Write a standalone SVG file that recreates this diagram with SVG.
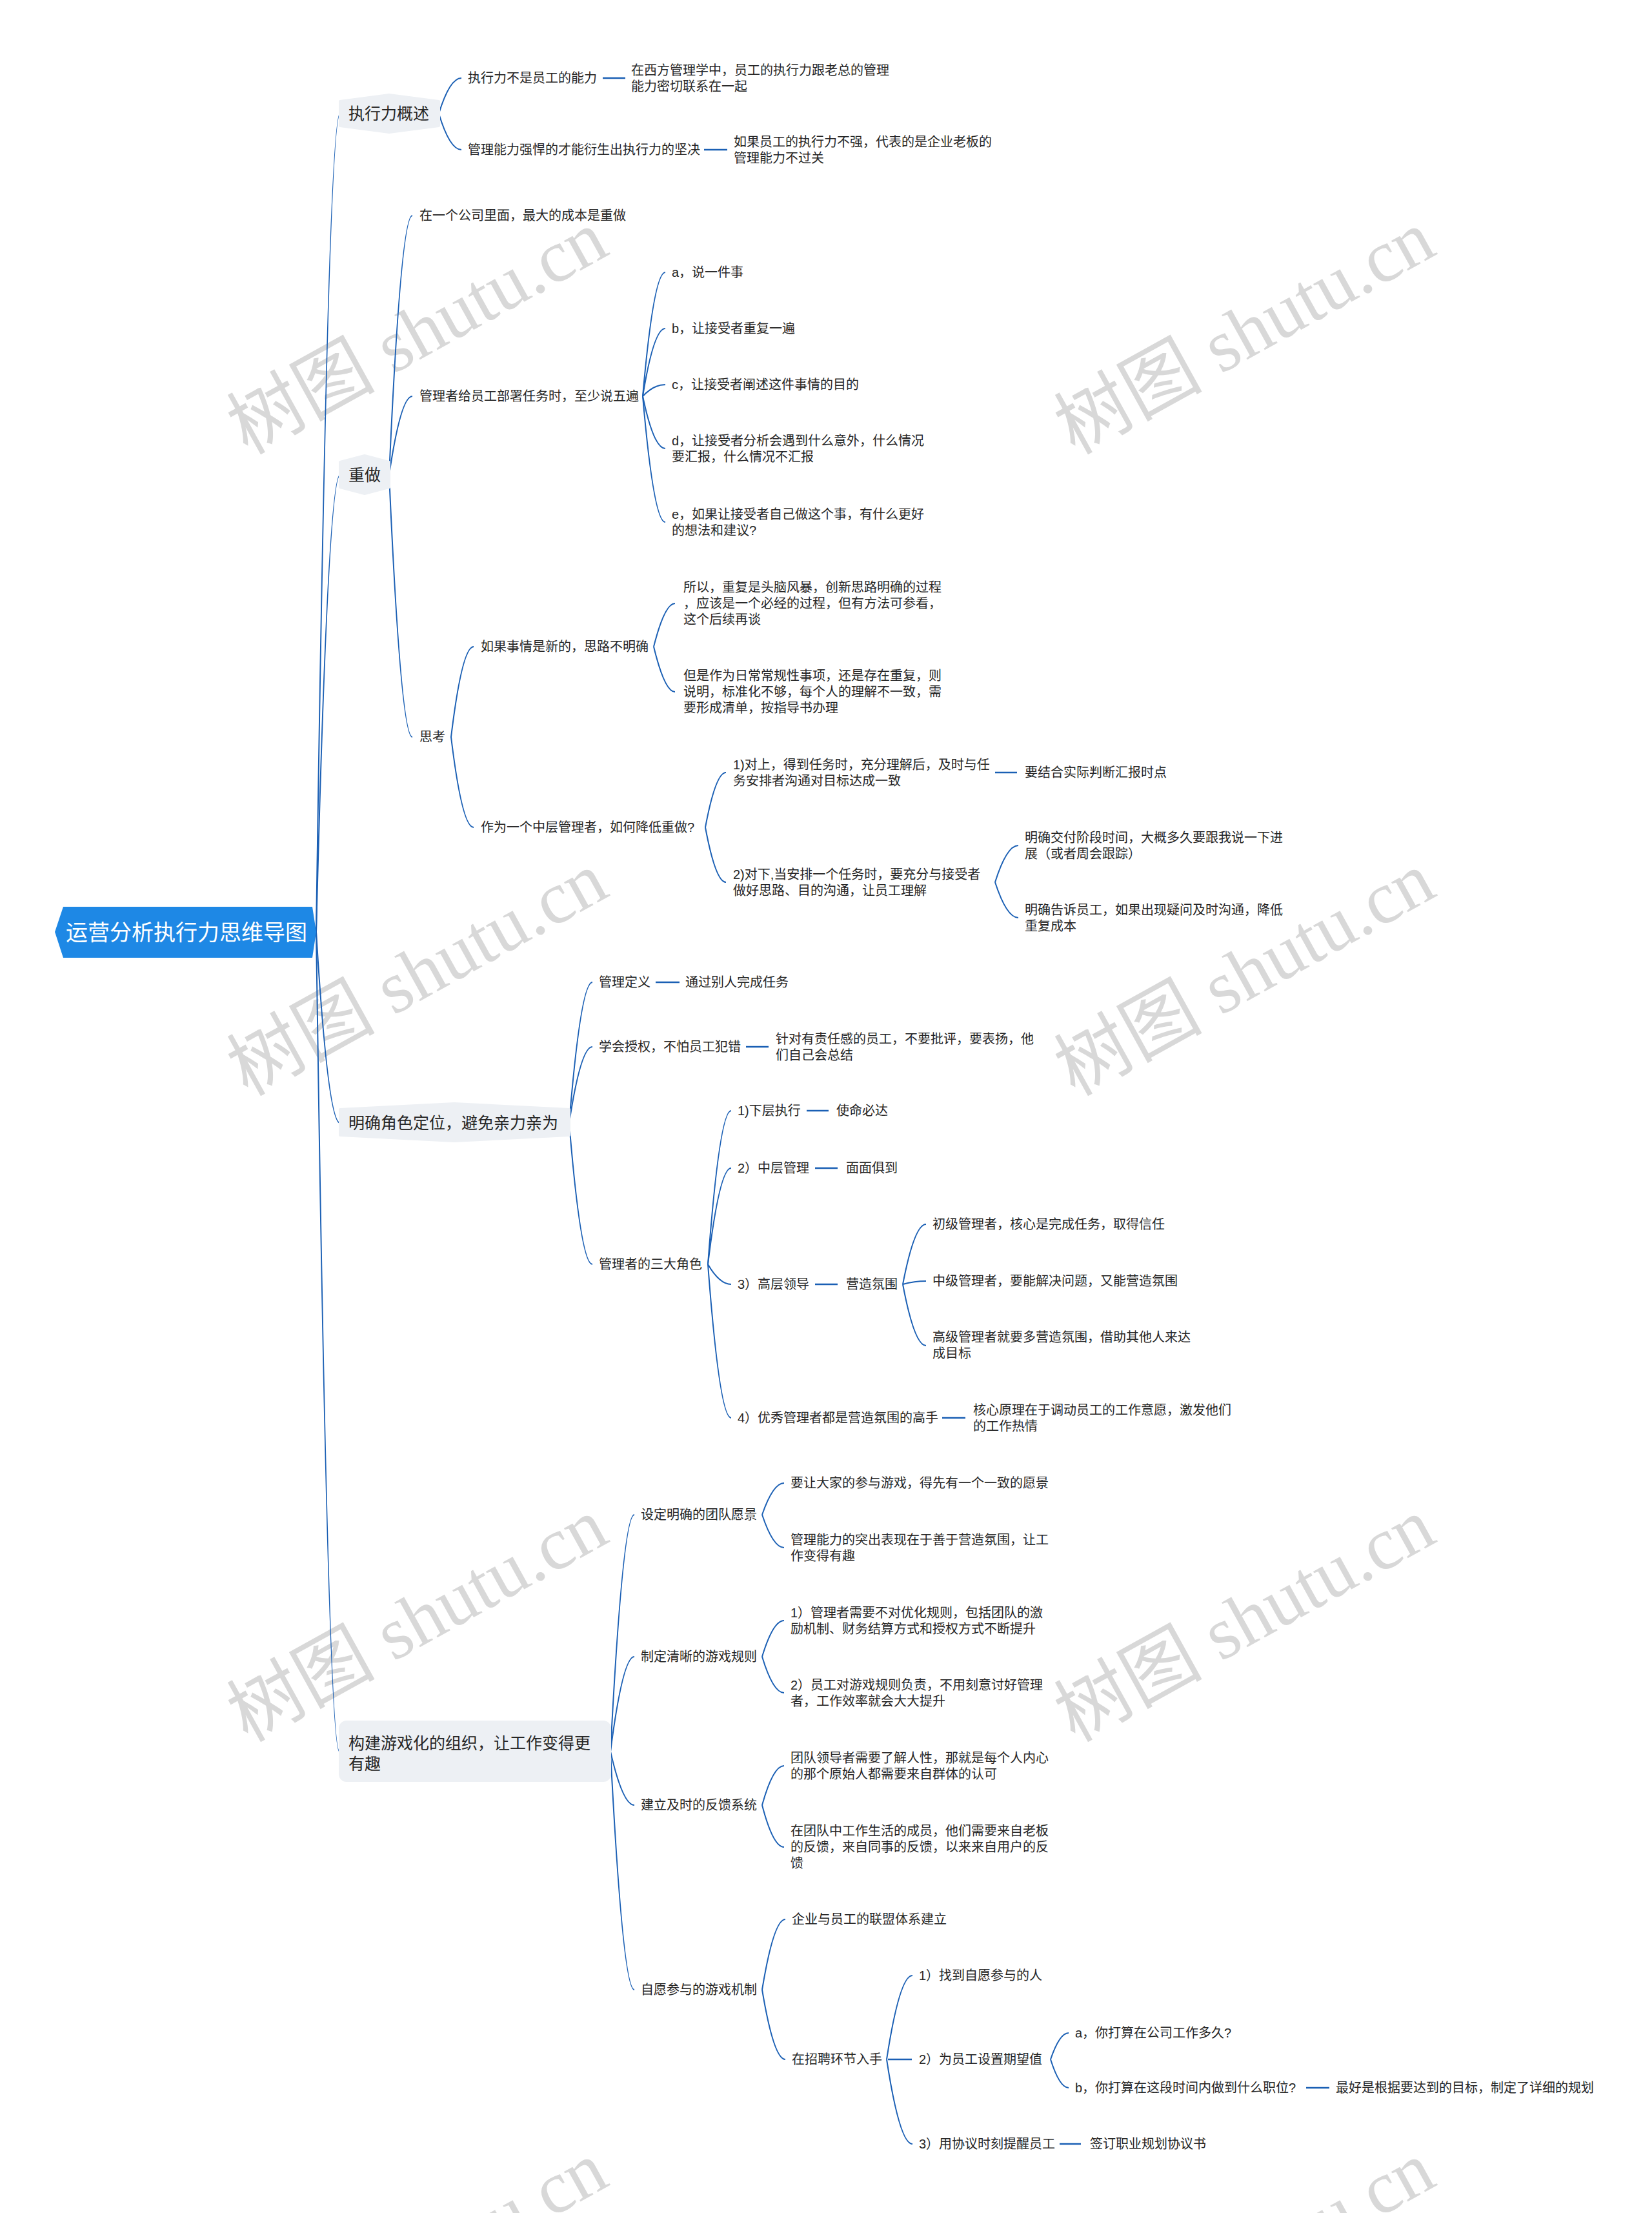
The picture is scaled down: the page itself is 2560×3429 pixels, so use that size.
<svg xmlns="http://www.w3.org/2000/svg" width="2560" height="3429" viewBox="0 0 2560 3429">
<style>
.t{font-family:'Liberation Sans','Noto Sans CJK SC',sans-serif;font-size:20px;fill:#262626}
.t1{font-family:'Liberation Sans','Noto Sans CJK SC',sans-serif;font-size:25px;fill:#262626}
.rt{font-family:'Liberation Sans','Noto Sans CJK SC',sans-serif;font-size:34px;fill:#ffffff}
.c{fill:none;stroke:#1a5fb4;stroke-width:2}
.d{stroke:#1a5fb4;stroke-width:2.5}
.bg{fill:#edf0f4;stroke:#edf0f4;stroke-width:4;stroke-linejoin:round}
.wm{font-family:'Liberation Serif','Noto Sans CJK SC',serif;font-size:115px;fill:#d8d8d8;text-anchor:middle}
</style>
<rect width="2560" height="3429" fill="#ffffff"/>
<g id="watermarks">
<text class="wm" x="646" y="554" transform="rotate(-29 646 514)">树图 shutu.cn</text>
<text class="wm" x="1928" y="554" transform="rotate(-29 1928 514)">树图 shutu.cn</text>
<text class="wm" x="646" y="1548" transform="rotate(-29 646 1508)">树图 shutu.cn</text>
<text class="wm" x="1928" y="1548" transform="rotate(-29 1928 1508)">树图 shutu.cn</text>
<text class="wm" x="646" y="2549" transform="rotate(-29 646 2509)">树图 shutu.cn</text>
<text class="wm" x="1928" y="2549" transform="rotate(-29 1928 2509)">树图 shutu.cn</text>
<text class="wm" x="646" y="3546" transform="rotate(-29 646 3506)">树图 shutu.cn</text>
<text class="wm" x="1928" y="3546" transform="rotate(-29 1928 3506)">树图 shutu.cn</text>
</g>
<g id="connectors">
<path class="c" d="M490 1444 Q508 176 527 176"/>
<path class="c" d="M490 1444 Q508 736 527 736"/>
<path class="c" d="M490 1444 Q508 1740 527 1740"/>
<path class="c" d="M490 1444 Q508 2714 526 2714"/>
<path class="c" d="M680 176 Q697 121 715 121"/>
<path class="c" d="M680 176 Q697 232 715 232"/>
<line class="d" x1="934" y1="121" x2="969" y2="121"/>
<line class="d" x1="1091" y1="232" x2="1127" y2="232"/>
<path class="c" d="M603 736 Q621 334 639 334"/>
<path class="c" d="M603 736 Q621 614 639 614"/>
<path class="c" d="M603 736 Q621 1142 639 1142"/>
<path class="c" d="M996 614 Q1013 422 1031 422"/>
<path class="c" d="M996 614 Q1013 509 1031 509"/>
<path class="c" d="M996 614 Q1013 596 1031 596"/>
<path class="c" d="M996 614 Q1013 695 1031 695"/>
<path class="c" d="M996 614 Q1013 809 1031 809"/>
<path class="c" d="M699 1142 Q716 1002 734 1002"/>
<path class="c" d="M699 1142 Q716 1282 734 1282"/>
<path class="c" d="M1013 1002 Q1030 935 1046 935"/>
<path class="c" d="M1013 1002 Q1030 1072 1046 1072"/>
<path class="c" d="M1093 1282 Q1109 1197 1125 1197"/>
<path class="c" d="M1093 1282 Q1109 1367 1125 1367"/>
<line class="d" x1="1542" y1="1197" x2="1576" y2="1197"/>
<path class="c" d="M1542 1367 Q1560 1310 1578 1310"/>
<path class="c" d="M1542 1367 Q1560 1422 1578 1422"/>
<path class="c" d="M882 1740 Q900 1522 918 1522"/>
<path class="c" d="M882 1740 Q900 1622 918 1622"/>
<path class="c" d="M882 1740 Q900 1959 918 1959"/>
<line class="d" x1="1016" y1="1522" x2="1053" y2="1522"/>
<line class="d" x1="1156" y1="1622" x2="1191" y2="1622"/>
<path class="c" d="M1097 1959 Q1115 1721 1133 1721"/>
<path class="c" d="M1097 1959 Q1115 1810 1133 1810"/>
<path class="c" d="M1097 1959 Q1115 1990 1133 1990"/>
<path class="c" d="M1097 1959 Q1115 2197 1133 2197"/>
<line class="d" x1="1250" y1="1721" x2="1284" y2="1721"/>
<line class="d" x1="1263" y1="1810" x2="1298" y2="1810"/>
<line class="d" x1="1263" y1="1990" x2="1298" y2="1990"/>
<line class="d" x1="1460" y1="2197" x2="1496" y2="2197"/>
<path class="c" d="M1399 1990 Q1417 1897 1435 1897"/>
<path class="c" d="M1399 1990 Q1417 1985 1435 1985"/>
<path class="c" d="M1399 1990 Q1417 2085 1435 2085"/>
<path class="c" d="M946 2714 Q965 2347 983 2347"/>
<path class="c" d="M946 2714 Q965 2567 983 2567"/>
<path class="c" d="M946 2714 Q965 2797 983 2797"/>
<path class="c" d="M946 2714 Q965 3083 983 3083"/>
<path class="c" d="M1181 2347 Q1198 2298 1215 2298"/>
<path class="c" d="M1181 2347 Q1198 2398 1215 2398"/>
<path class="c" d="M1181 2567 Q1198 2511 1215 2511"/>
<path class="c" d="M1181 2567 Q1198 2623 1215 2623"/>
<path class="c" d="M1181 2797 Q1198 2736 1215 2736"/>
<path class="c" d="M1181 2797 Q1198 2862 1215 2862"/>
<path class="c" d="M1181 3083 Q1199 2974 1217 2974"/>
<path class="c" d="M1181 3083 Q1199 3191 1217 3191"/>
<path class="c" d="M1374 3191 Q1394 3061 1414 3061"/>
<line class="d" x1="1376" y1="3191" x2="1413" y2="3191"/>
<path class="c" d="M1374 3191 Q1394 3322 1414 3322"/>
<path class="c" d="M1628 3191 Q1642 3150 1656 3150"/>
<path class="c" d="M1628 3191 Q1642 3235 1656 3235"/>
<line class="d" x1="2024" y1="3235" x2="2060" y2="3235"/>
<line class="d" x1="1642" y1="3322" x2="1675" y2="3322"/>
</g>
<g id="root">
<polygon points="85,1444 98,1405 484,1405 490,1444 484,1484 98,1484" fill="#1e88e5"/>
<text class="rt" x="102" y="1457">运营分析执行力思维导图</text>
</g>
<g id="n-a">
<polygon class="bg" points="527,157 603,147 680,157 680,195 603,205 527,195"/>
<text class="t1" x="540" y="185">执行力概述</text>
</g>
<g id="n-a1"><text class="t" x="725" y="128">执行力不是员工的能力</text></g>
<g id="n-a1a"><text class="t"><tspan x="978" y="116">在西方管理学中，员工的执行力跟老总的管理</tspan><tspan x="978" y="141">能力密切联系在一起</tspan></text></g>
<g id="n-a2"><text class="t" x="725" y="239">管理能力强悍的才能衍生出执行力的坚决</text></g>
<g id="n-a2a"><text class="t"><tspan x="1137" y="227">如果员工的执行力不强，代表的是企业老板的</tspan><tspan x="1137" y="252">管理能力不过关</tspan></text></g>
<g id="n-b">
<polygon class="bg" points="527,716 565,706 603,716 603,755 565,765 527,755"/>
<text class="t1" x="540" y="745">重做</text>
</g>
<g id="n-b1"><text class="t" x="650" y="341">在一个公司里面，最大的成本是重做</text></g>
<g id="n-b2"><text class="t" x="650" y="621">管理者给员工部署任务时，至少说五遍</text></g>
<g id="n-b2a"><text class="t" x="1041" y="429">a，说一件事</text></g>
<g id="n-b2b"><text class="t" x="1041" y="516">b，让接受者重复一遍</text></g>
<g id="n-b2c"><text class="t" x="1041" y="603">c，让接受者阐述这件事情的目的</text></g>
<g id="n-b2d"><text class="t"><tspan x="1041" y="690">d，让接受者分析会遇到什么意外，什么情况</tspan><tspan x="1041" y="715">要汇报，什么情况不汇报</tspan></text></g>
<g id="n-b2e"><text class="t"><tspan x="1041" y="804">e，如果让接受者自己做这个事，有什么更好</tspan><tspan x="1041" y="829">的想法和建议?</tspan></text></g>
<g id="n-b3"><text class="t" x="650" y="1149">思考</text></g>
<g id="n-b3a"><text class="t" x="745" y="1009">如果事情是新的，思路不明确</text></g>
<g id="n-b3a1"><text class="t"><tspan x="1059" y="917">所以，重复是头脑风暴，创新思路明确的过程</tspan><tspan x="1059" y="942">，应该是一个必经的过程，但有方法可参看，</tspan><tspan x="1059" y="967">这个后续再谈</tspan></text></g>
<g id="n-b3a2"><text class="t"><tspan x="1059" y="1054">但是作为日常常规性事项，还是存在重复，则</tspan><tspan x="1059" y="1079">说明，标准化不够，每个人的理解不一致，需</tspan><tspan x="1059" y="1104">要形成清单，按指导书办理</tspan></text></g>
<g id="n-b3b"><text class="t" x="745" y="1289">作为一个中层管理者，如何降低重做?</text></g>
<g id="n-b3b1"><text class="t"><tspan x="1136" y="1192">1)对上，得到任务时，充分理解后，及时与任</tspan><tspan x="1136" y="1217">务安排者沟通对目标达成一致</tspan></text></g>
<g id="n-b3b1a"><text class="t" x="1588" y="1204">要结合实际判断汇报时点</text></g>
<g id="n-b3b2"><text class="t"><tspan x="1136" y="1362">2)对下,当安排一个任务时，要充分与接受者</tspan><tspan x="1136" y="1387">做好思路、目的沟通，让员工理解</tspan></text></g>
<g id="n-b3b2a"><text class="t"><tspan x="1588" y="1305">明确交付阶段时间，大概多久要跟我说一下进</tspan><tspan x="1588" y="1330">展（或者周会跟踪）</tspan></text></g>
<g id="n-b3b2b"><text class="t"><tspan x="1588" y="1417">明确告诉员工，如果出现疑问及时沟通，降低</tspan><tspan x="1588" y="1442">重复成本</tspan></text></g>
<g id="n-c">
<polygon class="bg" points="527,1719 704,1710 882,1719 882,1759 704,1768 527,1759"/>
<text class="t1" x="540" y="1749">明确角色定位，避免亲力亲为</text>
</g>
<g id="n-c1"><text class="t" x="928" y="1529">管理定义</text></g>
<g id="n-c1a"><text class="t" x="1062" y="1529">通过别人完成任务</text></g>
<g id="n-c2"><text class="t" x="928" y="1629">学会授权，不怕员工犯错</text></g>
<g id="n-c2a"><text class="t"><tspan x="1202" y="1617">针对有责任感的员工，不要批评，要表扬，他</tspan><tspan x="1202" y="1642">们自己会总结</tspan></text></g>
<g id="n-c3"><text class="t" x="928" y="1966">管理者的三大角色</text></g>
<g id="n-c3a"><text class="t" x="1143" y="1728">1)下层执行</text></g>
<g id="n-c3a1"><text class="t" x="1296" y="1728">使命必达</text></g>
<g id="n-c3b"><text class="t" x="1143" y="1817">2）中层管理</text></g>
<g id="n-c3b1"><text class="t" x="1311" y="1817">面面俱到</text></g>
<g id="n-c3c"><text class="t" x="1143" y="1997">3）高层领导</text></g>
<g id="n-c3c1"><text class="t" x="1311" y="1997">营造氛围</text></g>
<g id="n-c3c1a"><text class="t" x="1445" y="1904">初级管理者，核心是完成任务，取得信任</text></g>
<g id="n-c3c1b"><text class="t" x="1445" y="1992">中级管理者，要能解决问题，又能营造氛围</text></g>
<g id="n-c3c1c"><text class="t"><tspan x="1445" y="2079">高级管理者就要多营造氛围，借助其他人来达</tspan><tspan x="1445" y="2104">成目标</tspan></text></g>
<g id="n-c3d"><text class="t" x="1143" y="2204">4）优秀管理者都是营造氛围的高手</text></g>
<g id="n-c3d1"><text class="t"><tspan x="1508" y="2192">核心原理在于调动员工的工作意愿，激发他们</tspan><tspan x="1508" y="2217">的工作热情</tspan></text></g>
<g id="n-d">
<rect class="bg" x="527" y="2668" width="418" height="91" rx="10"/>
<text class="t1"><tspan x="540" y="2710">构建游戏化的组织，让工作变得更</tspan><tspan x="540" y="2742">有趣</tspan></text>
</g>
<g id="n-d1"><text class="t" x="993" y="2354">设定明确的团队愿景</text></g>
<g id="n-d1a"><text class="t" x="1225" y="2305">要让大家的参与游戏，得先有一个一致的愿景</text></g>
<g id="n-d1b"><text class="t"><tspan x="1225" y="2393">管理能力的突出表现在于善于营造氛围，让工</tspan><tspan x="1225" y="2418">作变得有趣</tspan></text></g>
<g id="n-d2"><text class="t" x="993" y="2574">制定清晰的游戏规则</text></g>
<g id="n-d2a"><text class="t"><tspan x="1225" y="2506">1）管理者需要不对优化规则，包括团队的激</tspan><tspan x="1225" y="2531">励机制、财务结算方式和授权方式不断提升</tspan></text></g>
<g id="n-d2b"><text class="t"><tspan x="1225" y="2618">2）员工对游戏规则负责，不用刻意讨好管理</tspan><tspan x="1225" y="2643">者，工作效率就会大大提升</tspan></text></g>
<g id="n-d3"><text class="t" x="993" y="2804">建立及时的反馈系统</text></g>
<g id="n-d3a"><text class="t"><tspan x="1225" y="2731">团队领导者需要了解人性，那就是每个人内心</tspan><tspan x="1225" y="2756">的那个原始人都需要来自群体的认可</tspan></text></g>
<g id="n-d3b"><text class="t"><tspan x="1225" y="2844">在团队中工作生活的成员，他们需要来自老板</tspan><tspan x="1225" y="2869">的反馈，来自同事的反馈，以来来自用户的反</tspan><tspan x="1225" y="2894">馈</tspan></text></g>
<g id="n-d4"><text class="t" x="993" y="3090">自愿参与的游戏机制</text></g>
<g id="n-d4a"><text class="t" x="1227" y="2981">企业与员工的联盟体系建立</text></g>
<g id="n-d4b"><text class="t" x="1227" y="3198">在招聘环节入手</text></g>
<g id="n-d4b1"><text class="t" x="1424" y="3068">1）找到自愿参与的人</text></g>
<g id="n-d4b2"><text class="t" x="1424" y="3198">2）为员工设置期望值</text></g>
<g id="n-d4b2a"><text class="t" x="1666" y="3157">a，你打算在公司工作多久?</text></g>
<g id="n-d4b2b"><text class="t" x="1666" y="3242">b，你打算在这段时间内做到什么职位?</text></g>
<g id="n-d4b2b1"><text class="t" x="2070" y="3242">最好是根据要达到的目标，制定了详细的规划</text></g>
<g id="n-d4b3"><text class="t" x="1424" y="3329">3）用协议时刻提醒员工</text></g>
<g id="n-d4b3a"><text class="t" x="1689" y="3329">签订职业规划协议书</text></g>
</svg>
